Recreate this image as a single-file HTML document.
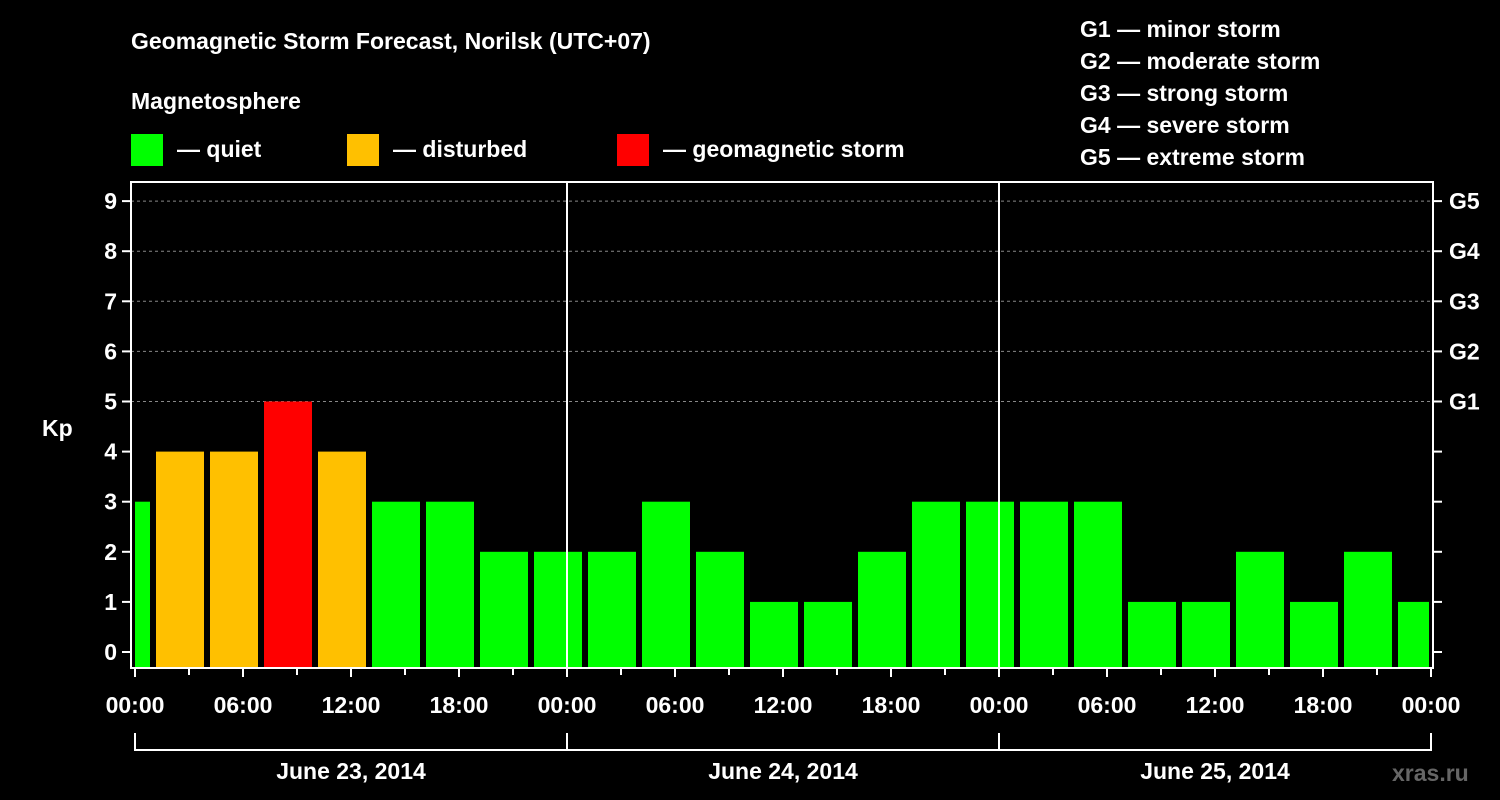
<!DOCTYPE html>
<html><head><meta charset="utf-8"><style>
body{margin:0;background:#000;}
svg{display:block;font-family:"Liberation Sans",Arial,sans-serif;font-weight:bold;}
</style></head><body>
<svg id="chart" width="1500" height="800" viewBox="0 0 1500 800">
<rect width="1500" height="800" fill="#000"/>
<text x="131" y="49" fill="#fff" font-size="23">Geomagnetic Storm Forecast, Norilsk (UTC+07)</text>
<text x="131" y="109" fill="#fff" font-size="23">Magnetosphere</text>
<g><rect x="131" y="134" width="32" height="32" fill="#00ff00"/><text x="177" y="157" fill="#fff" font-size="23">— quiet</text></g>
<g><rect x="347" y="134" width="32" height="32" fill="#ffc000"/><text x="393" y="157" fill="#fff" font-size="23">— disturbed</text></g>
<g><rect x="617" y="134" width="32" height="32" fill="#ff0000"/><text x="663" y="157" fill="#fff" font-size="23">— geomagnetic storm</text></g>
<g fill="#fff" font-size="23">
<text x="1080" y="37">G1 — minor storm</text>
<text x="1080" y="69">G2 — moderate storm</text>
<text x="1080" y="101">G3 — strong storm</text>
<text x="1080" y="133">G4 — severe storm</text>
<text x="1080" y="165">G5 — extreme storm</text>
</g>
<g id="grid"></g>
<g id="bars"></g>
<g id="axes"></g>
<text x="42" y="436" fill="#fff" font-size="23">Kp</text>
<text x="1392" y="781" fill="#666" font-size="23">xras.ru</text>
</svg>
<script>
const kpValues=[3,4,4,5,4,3,3,2,2,2,3,2,1,1,2,3,3,3,3,1,1,2,1,2,1];
const yTicks=[0,1,2,3,4,5,6,7,8,9];
const gLabels=["","","","","","G1","G2","G3","G4","G5"];
const hourLabels=["00:00","06:00","12:00","18:00","00:00","06:00","12:00","18:00","00:00","06:00","12:00","18:00","00:00"];
const dateLabels=["June 23, 2014","June 24, 2014","June 25, 2014"];
const NS="http://www.w3.org/2000/svg";
const L=131,R=1433,T=182,B=668,X0=135,HPX=18;
const y=v=>652-v*50.1;
const x=h=>X0+h*HPX;
function mk(tag,attrs,parent,txt){const e=document.createElementNS(NS,tag);for(const k in attrs)e.setAttribute(k,attrs[k]);if(txt!==undefined)e.textContent=txt;document.getElementById(parent).appendChild(e);return e;}
yTicks.forEach(v=>{
 if(v>=5){const l=mk('line',{x1:L,x2:R,y1:y(v),y2:y(v),stroke:'#888','stroke-dasharray':'3,3','stroke-width':1},'grid');
 
 }
});
kpValues.forEach((v,i)=>{
 let x1=x(3*i)-33,x2=x1+48;
 x1=Math.max(x1,L+4);x2=Math.min(x2,R-4);
 const c=v>=5?'#ff0000':(v>=4?'#ffc000':'#00ff00');
 const r=mk('rect',{x:x1,y:y(v),width:x2-x1,height:B-y(v),fill:c},'bars');
 
 
});
// frame
const f=mk('rect',{x:L,y:T,width:R-L,height:B-T,fill:'none',stroke:'#fff','stroke-width':2},'axes');


[1,2].forEach(d=>{const l=mk('line',{x1:x(24*d),x2:x(24*d),y1:T,y2:B,stroke:'#fff','stroke-width':2},'axes');
 
 });
yTicks.forEach((v,i)=>{
 mk('line',{x1:L-9,x2:L,y1:y(v),y2:y(v),stroke:'#fff','stroke-width':2},'axes');
 mk('line',{x1:R,x2:R+9,y1:y(v),y2:y(v),stroke:'#fff','stroke-width':2},'axes');
 const t=mk('text',{x:L-14,y:y(v)+8,fill:'#fff','font-size':23,'text-anchor':'end'},'axes',String(v));
 
 
 if(gLabels[i]){const g=mk('text',{x:R+16,y:y(v)+8,fill:'#fff','font-size':23},'axes',gLabels[i]);
 
 }
});
for(let k=0;k<=24;k++){
 const major=k%2===0;
 mk('line',{x1:x(3*k),x2:x(3*k),y1:B,y2:B+(major?9:7),stroke:'#fff','stroke-width':2},'axes');
}
hourLabels.forEach((h,i)=>{
 const t=mk('text',{x:x(6*i),y:713,fill:'#fff','font-size':23,'text-anchor':'middle'},'axes',h);
 
 
});
mk('line',{x1:x(0),x2:x(72),y1:750,y2:750,stroke:'#fff','stroke-width':2},'axes');
for(let d=0;d<=3;d++)mk('line',{x1:x(24*d),x2:x(24*d),y1:733,y2:751,stroke:'#fff','stroke-width':2},'axes');
dateLabels.forEach((d,i)=>{
 const t=mk('text',{x:x(24*i+12),y:779,fill:'#fff','font-size':23,'text-anchor':'middle'},'axes',d);
 
 
});
</script>
</body></html>
